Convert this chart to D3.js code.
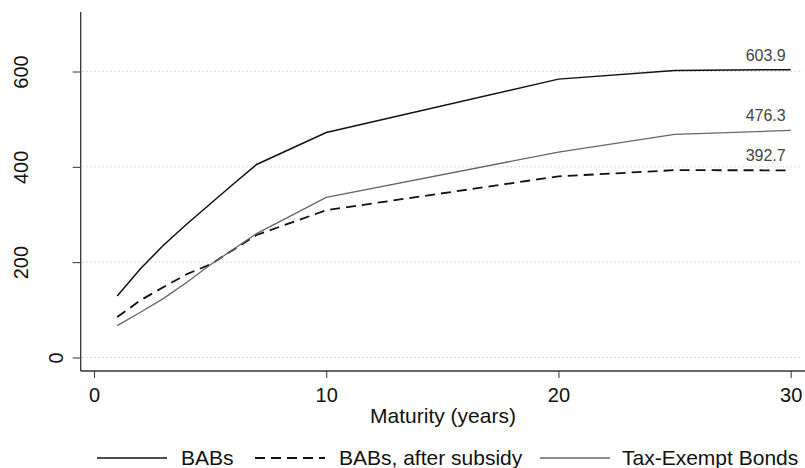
<!DOCTYPE html>
<html>
<head>
<meta charset="utf-8">
<script src="https://cdn.jsdelivr.net/npm/d3@7"></script>
<style>
  body { margin: 0; background: #fff; }
  svg { display: block; font-family: "Liberation Sans", Arial, sans-serif; }
</style>
</head>
<body>
<div id="chart"></div>
<script>
// maturity in years
var years = [1, 2, 3, 4, 5, 6, 7, 10, 20, 25, 30];

var babs       = [129, 186, 236, 280, 322, 364, 405, 472, 584, 602, 603.9];
var babsSub    = [85, 120, 148, 175, 195, 226, 257, 309, 380, 393, 392.7];
var taxExempt  = [67, 95, 124, 158, 194, 227, 260, 336, 431, 468, 476.3];

var seriesNames = ['BABs', 'BABs, after subsidy', 'Tax-Exempt Bonds'];
var xTicks = [0, 10, 20, 30];
var yTicks = [0, 200, 400, 600];

var width = 805, height = 468;

var svg = d3.select('#chart').append('svg')
  .attr('width', width)
  .attr('height', height);

var x = d3.scaleLinear().domain([0, 30]).range([94, 790.7]);
var y = d3.scaleLinear().domain([0, 600]).range([357.5, 71.5]);

var axisX = 80.7, axisY = 371;

// dotted grid lines
svg.append('g').selectAll('line')
  .data(yTicks)
  .enter().append('line')
    .attr('x1', axisX + 2)
    .attr('x2', 803)
    .attr('y1', function(d) { return y(d); })
    .attr('y2', function(d) { return y(d); })
    .style('stroke', '#b8b8b8')
    .style('stroke-width', 1)
    .style('stroke-dasharray', '1,3');

// axes
var yAxis = d3.axisLeft(y).tickValues(yTicks).tickSize(8).tickFormat(d3.format('d'));
var gy = svg.append('g')
  .attr('transform', 'translate(' + axisX + ',0)')
  .call(yAxis);
gy.select('.domain').remove();
gy.selectAll('.tick line').style('stroke', '#333');
gy.selectAll('.tick text')
  .attr('x', null).attr('dy', null)
  .attr('text-anchor', 'middle')
  .attr('transform', function(d) {
    var bx = d === 0 ? -18 : -53;
    return 'translate(' + bx + ',0) rotate(-90)';
  })
  .style('font-size', '20px')
  .style('font-family', '"Liberation Sans", Arial, sans-serif')
  .style('fill', '#111');

var xAxis = d3.axisBottom(x).tickValues(xTicks).tickSize(7);
var gx = svg.append('g')
  .attr('transform', 'translate(0,' + axisY + ')')
  .call(xAxis);
gx.select('.domain').remove();
gx.selectAll('.tick line').style('stroke', '#333');
gx.selectAll('.tick text')
  .attr('y', 31).attr('dy', null)
  .style('font-size', '20px')
  .style('font-family', '"Liberation Sans", Arial, sans-serif')
  .style('fill', '#111');

svg.append('line')
  .attr('x1', axisX).attr('x2', axisX)
  .attr('y1', 12).attr('y2', axisY)
  .style('stroke', '#333').style('stroke-width', 1.3);
svg.append('line')
  .attr('x1', axisX).attr('x2', width)
  .attr('y1', axisY).attr('y2', axisY)
  .style('stroke', '#333').style('stroke-width', 1.3);

svg.append('text')
  .attr('x', 443)
  .attr('y', 422.5)
  .attr('text-anchor', 'middle')
  .style('font-size', '21px')
  .style('fill', '#111')
  .text('Maturity (years)');

// series
var styles = [
  { color: '#111', width: 1.5, dash: null },
  { color: '#111', width: 1.8, dash: '10,6' },
  { color: '#666', width: 1.3, dash: null }
];
var allSeries = [babs, babsSub, taxExempt];

var line = d3.line()
  .x(function(d) { return x(d[0]); })
  .y(function(d) { return y(d[1]); });

allSeries.forEach(function(vals, i) {
  var pts = years.map(function(yr, j) { return [yr, vals[j]]; });
  svg.append('path')
    .datum(pts)
    .attr('d', line)
    .style('fill', 'none')
    .style('stroke', styles[i].color)
    .style('stroke-width', styles[i].width)
    .style('stroke-dasharray', styles[i].dash);

  var last = vals[vals.length - 1];
  svg.append('text')
    .attr('x', x(years[years.length - 1]) - 5)
    .attr('y', y(last) - 9)
    .attr('text-anchor', 'end')
    .style('font-size', '16px')
    .style('fill', '#444')
    .text(d3.format('.1f')(last));
});

// legend
var legendX = [97, 255, 540];
var legend = svg.append('g').selectAll('g')
  .data(seriesNames)
  .enter().append('g')
    .attr('transform', function(d, i) { return 'translate(' + legendX[i] + ',458)'; });

legend.append('line')
  .attr('x1', 0).attr('x2', 70)
  .attr('y1', 0).attr('y2', 0)
  .style('stroke', function(d, i) { return styles[i].color; })
  .style('stroke-width', function(d, i) { return styles[i].width; })
  .style('stroke-dasharray', function(d, i) { return styles[i].dash; });

legend.append('text')
  .attr('x', function(d, i) { return i === 2 ? 82 : 84; })
  .attr('y', 7)
  .style('font-size', '21px')
  .style('fill', '#111')
  .text(function(d) { return d; });
</script>
</body>
</html>
